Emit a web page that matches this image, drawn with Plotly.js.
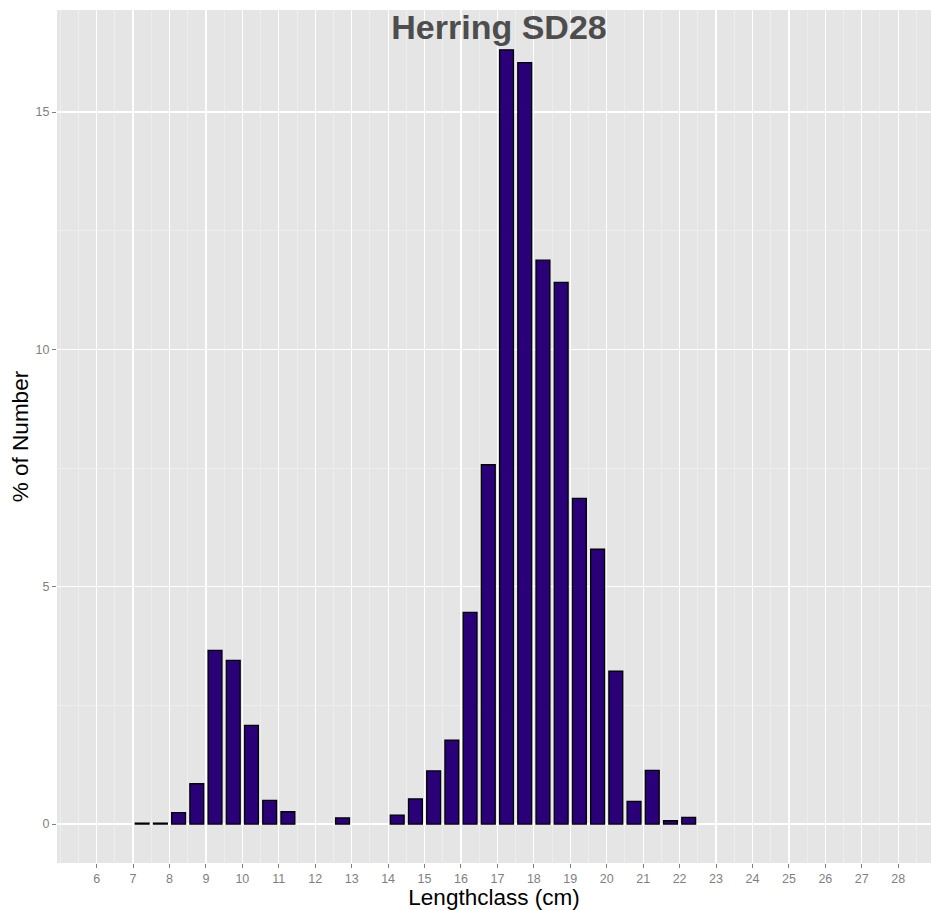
<!DOCTYPE html>
<html>
<head>
<meta charset="utf-8">
<script src="https://cdn.plot.ly/plotly-3.0.1.min.js"></script>
<style>html,body{margin:0;padding:0;background:#fff;}#chart{width:931px;height:910px;}</style>
</head>
<body>
<div id="chart"></div>
<script>
// Length class midpoints (cm)
var lengthClass = [7.25, 7.75, 8.25, 8.75, 9.25, 9.75, 10.25, 10.75, 11.25, 12.75,
                   14.25, 14.75, 15.25, 15.75, 16.25, 16.75, 17.25, 17.75, 18.25, 18.75,
                   19.25, 19.75, 20.25, 20.75, 21.25, 21.75, 22.25];
// % of number per length class
var pctNumber = [0.02, 0.02, 0.24, 0.85, 3.66, 3.45, 2.08, 0.50, 0.26, 0.13,
                 0.19, 0.53, 1.12, 1.77, 4.46, 7.57, 16.31, 16.04, 11.88, 11.41,
                 6.86, 5.79, 3.22, 0.48, 1.13, 0.07, 0.14];
var xTickVals = [6,7,8,9,10,11,12,13,14,15,16,17,18,19,20,21,22,23,24,25,26,27,28];
var xTickText = ["6","7","8","9","10","11","12","13","14","15","16","17","18","19","20","21","22","23","24","25","26","27","28"];
var yTickVals = [0, 5, 10, 15];
var yTickText = ["0", "5", "10", "15"];

var trace = {
  type: 'bar',
  x: lengthClass,
  y: pctNumber,
  width: 0.38,
  marker: {color: '#2a0079', line: {color: '#000000', width: 1.3}},
  hoverinfo: 'x+y'
};

var layout = {
  width: 931, height: 910,
  margin: {l: 57, r: 0, t: 10, b: 47, pad: 0},
  paper_bgcolor: '#ffffff',
  plot_bgcolor: '#e5e5e5',
  font: {family: 'Liberation Sans, Arial, sans-serif'},
  showlegend: false,
  bargap: 0,
  title: {
    text: '<b>Herring SD28</b>',
    font: {size: 34, color: '#4d4d4d', family: 'Liberation Sans, Arial, sans-serif'},
    x: 0.5, xref: 'paper', y: 0.983, yref: 'container', xanchor: 'center', yanchor: 'top'
  },
  xaxis: {
    range: [4.913, 28.9],
    tickmode: 'array', tickvals: xTickVals, ticktext: xTickText,
    ticks: 'outside', ticklen: 4, tickwidth: 1, tickcolor: '#7f7f7f',
    tickfont: {size: 12.5, color: '#7f7f7f'},
    showgrid: true, gridcolor: '#ffffff', gridwidth: 1.2,
    minor: {dtick: 0.5, tick0: 0, showgrid: true, gridcolor: '#f2f2f2', gridwidth: 0.6},
    zeroline: false, showline: false,
    title: {text: 'Lengthclass (cm)', font: {size: 22.5, color: '#000000'}, standoff: 0}
  },
  yaxis: {
    range: [-0.82, 17.15],
    tickmode: 'array', tickvals: yTickVals, ticktext: yTickText,
    ticks: 'outside', ticklen: 4, tickwidth: 1, tickcolor: '#7f7f7f',
    tickfont: {size: 12.5, color: '#7f7f7f'},
    showgrid: true, gridcolor: '#ffffff', gridwidth: 1.2,
    minor: {dtick: 2.5, tick0: 0, showgrid: true, gridcolor: '#f2f2f2', gridwidth: 0.6},
    zeroline: false, showline: false,
    title: {text: '% of Number', font: {size: 22.5, color: '#000000'}, standoff: 0}
  }
};

// Centre the title where the reference draws it (about x = 499 px)
layout.title.x = (499 - 57) / (931 - 57);

Plotly.newPlot('chart', [trace], layout, {displayModeBar: false, staticPlot: true});
</script>
</body>
</html>
